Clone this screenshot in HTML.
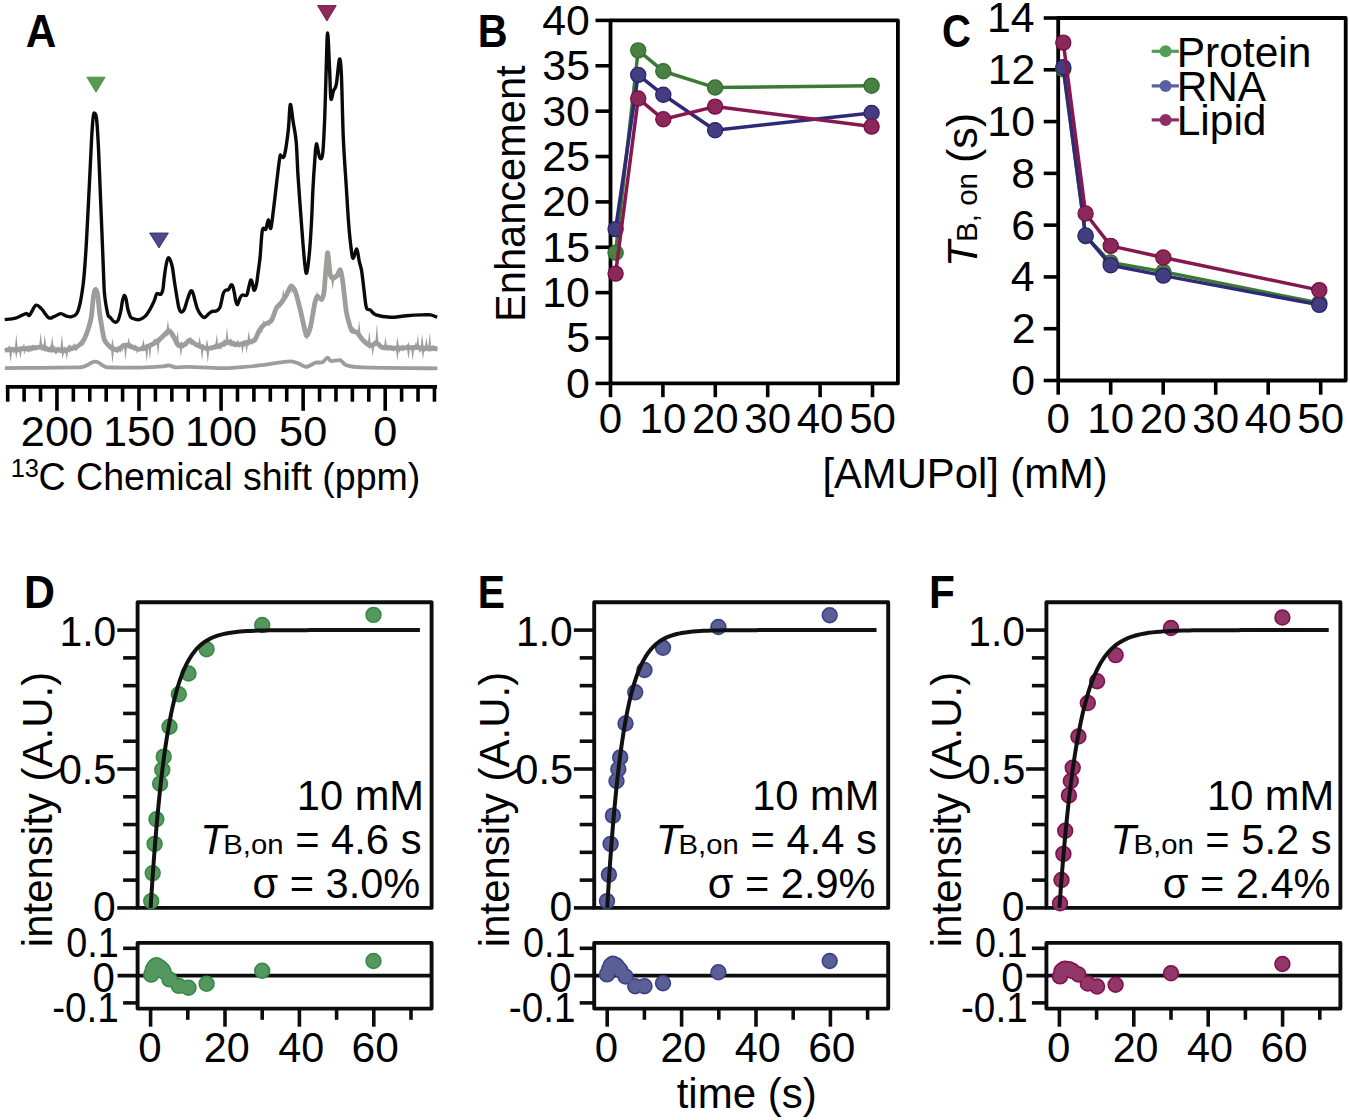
<!DOCTYPE html>
<html><head><meta charset="utf-8"><style>
html,body{margin:0;padding:0;background:#fff;}
svg{display:block;}
text{font-family:"Liberation Sans", sans-serif;}
</style></head><body>
<svg width="1350" height="1120" viewBox="0 0 1350 1120">
<rect width="1350" height="1120" fill="#fff"/>
<path d="M4.9,350.1 C6.04,350.02 13.53,349.51 16.3,349.3 C19.07,349.09 29.99,348.24 32.6,348 C35.21,347.76 40.77,346.77 42.4,346.9 C44.03,347.03 46.62,348.98 48.9,349.3 C51.18,349.62 62.43,350.34 65.2,350.1 C67.97,349.86 74.81,347.79 76.6,346.9 C78.39,346.01 81.96,342.91 83.1,341.2 C84.24,339.49 87.18,332.22 88,329.8 C88.82,327.38 90.75,320.38 91.3,317 C91.85,313.62 93.08,298.75 93.5,296 C93.92,293.25 95.09,289.7 95.5,289.5 C95.91,289.3 97.2,291.75 97.6,294 C98,296.25 99.16,309.2 99.5,312 C99.84,314.8 100.52,319.24 101,322 C101.48,324.76 103.32,337.03 104.3,339.6 C105.28,342.17 109.5,346.65 110.8,347.7 C112.1,348.75 116.33,350.07 117.3,350.1 C118.27,350.13 119.84,348.48 120.5,348 C121.16,347.52 122.91,345.49 123.9,345.3 C124.89,345.11 128.94,345.7 130.4,346.1 C131.86,346.5 136.87,349.22 138.5,349.3 C140.13,349.38 144.9,347.63 146.7,346.9 C148.5,346.17 154.87,343.06 156.5,342 C158.13,340.94 161.78,337.44 163,336.3 C164.22,335.16 167.73,330.76 168.7,330.6 C169.67,330.44 171.81,333.32 172.7,334.7 C173.59,336.08 176.62,343.26 177.6,344.4 C178.58,345.54 181.27,346.5 182.5,346.1 C183.73,345.7 188.59,340.57 189.9,340.4 C191.21,340.23 194.22,343.67 195.6,344.4 C196.98,345.13 202.26,347.32 203.7,347.7 C205.14,348.08 208.35,348.41 210,348.2 C211.65,347.99 218.5,346.2 220.2,345.6 C221.9,345 225.46,342.28 227,342.2 C228.54,342.12 233.89,344.71 235.6,344.8 C237.31,344.89 242.23,343.53 244.1,343.1 C245.97,342.67 252.77,341.78 254.3,340.5 C255.83,339.22 258.38,331.92 259.4,330.3 C260.42,328.68 263.31,325.24 264.5,324.3 C265.69,323.36 270.11,322.52 271.3,320.9 C272.49,319.28 275.37,309.97 276.4,308.1 C277.43,306.23 280.57,303.56 281.6,302.2 C282.63,300.84 285.77,296.12 286.7,294.5 C287.63,292.88 290.05,286.34 290.9,286 C291.75,285.66 294.26,288.72 295.2,291.1 C296.14,293.48 299.19,305.37 300.3,309.8 C301.41,314.23 305.28,333.69 306.3,335.4 C307.32,337.11 309.65,330.14 310.5,326.9 C311.35,323.66 314.12,306.07 314.8,303 C315.48,299.93 316.62,296.54 317.3,296.2 C317.98,295.86 320.92,300.11 321.6,299.6 C322.28,299.09 323.51,295.78 324.1,291.1 C324.69,286.42 326.9,254.5 327.5,252.8 C328.1,251.1 329.58,271.55 330.1,274.1 C330.62,276.65 332.02,278.13 332.7,278.3 C333.38,278.47 336.14,276.65 336.9,275.8 C337.66,274.95 339.7,269.12 340.3,269.8 C340.9,270.48 342.3,278.42 342.9,282.6 C343.5,286.78 345.45,306.83 346.3,311.6 C347.15,316.37 350.38,328.26 351.4,330.3 C352.42,332.34 355.31,330.98 356.5,332 C357.69,333.02 361.94,339.14 363.3,340.5 C364.66,341.86 368.74,345.34 370.1,345.6 C371.46,345.86 375.7,342.93 376.9,343.1 C378.1,343.27 380.05,346.79 382.1,347.3 C384.15,347.81 394.17,348.2 397.4,348.2 C400.63,348.2 410.4,347.22 414.4,347.3 C418.4,347.38 435.1,348.83 437.4,349" fill="none" stroke="#9c9e9c" stroke-width="4.8" stroke-linejoin="round"/>
<polyline points="5,348.73 5.75,350.27 6.5,349.31 7.25,350.48 8,350.54 8.75,347.57 9.5,347.25 10.25,351.48 11,348.42 11.75,348.24 12.5,352.14 13.25,349.36 14,351.21 14.75,349.29 15.5,350.08 16.25,347.49 17,349.95 17.75,351.1 18.5,349.25 19.25,350.32 20,349.9 20.75,346.68 21.5,350.23 22.25,349.3 23,347.73 23.75,346.27 24.5,350.55 25.25,348.44 26,349.66 26.75,350.44 27.5,349.52 28.25,350.54 29,347.74 29.75,349.79 30.5,347.88 31.25,350.37 32,350.02 32.75,345.89 33.5,346.01 34.25,346.34 35,350.15 35.75,347.31 36.5,348.22 37.25,346.44 38,347.43 38.75,346.72 39.5,346.45 40.25,347.58 41,347.5 41.75,349.07 42.5,347.88 43.25,349.44 44,349.34 44.75,350.32 45.5,348.94 46.25,346.57 47,350.47 47.75,351.29 48.5,351.26 49.25,349.68 50,350.47 50.75,347.89 51.5,351.15 52.25,349.85 53,348.38 53.75,347.27 54.5,351.42 55.25,352.16 56,347.51 56.75,351.25 57.5,349.26 58.25,347.94 59,348.72 59.75,351.23 60.5,351.81 61.25,347.54 62,350.54 62.75,347.61 63.5,351.15 64.25,349.17 65,352.07 65.75,352.44 66.5,349.76 67.25,352.12 68,348.32 68.75,346.9 69.5,349.41 70.25,346.25 71,346.9 71.75,347.78 72.5,348.63 73.25,346.05 74,345.25 74.75,349.33 75.5,346.24 76.25,349.38 77,348.61 77.75,345.26 78.5,345.03 79.25,344.68 80,344.67 80.75,343.76 81.5,342.91 82.25,342.57 83,343.58 83.75,339.72 84.5,337.59 85.25,337.34 86,333.09 86.75,331.67 87.5,333.45 88.25,328.94 89,326.17 89.75,320.47 90.5,319.66 91.25,317.61 92,307.82 92.75,303.76 93.5,296.69 94.25,291.27 95,291.79 95.75,289.86 96.5,292.58 97.25,292.48 98,298.87 98.75,306.13 99.5,309.52 100.25,314.71 101,322.92 101.75,328.41 102.5,328.71 103.25,333.77 104,338.48 104.75,339.22 105.5,340.39 106.25,341.06 107,342.28 107.75,344.4 108.5,343.8 109.25,345.13 110,348.12 110.75,345.18 111.5,348.32 112.25,349.46 113,347.52 113.75,347.35 114.5,350.65 115.25,347.98 116,347.99 116.75,349.56 117.5,351 118.25,347.41 119,348.06 119.75,347.63 120.5,349.73 121.25,347.08 122,348.66 122.75,344.49 123.5,344.77 124.25,346.12 125,347.44 125.75,345.27 126.5,344.19 127.25,343.74 128,345.96 128.75,344.29 129.5,347.58 130.25,347.84 131,344.69 131.75,345.48 132.5,348.53 133.25,347.96 134,349.11 134.75,347.01 135.5,346.19 136.25,347.33 137,350.24 137.75,347.81 138.5,348.5 139.25,348.65 140,348.44 140.75,348.17 141.5,350.61 142.25,346.41 143,345.41 143.75,350.07 144.5,349.52 145.25,349.86 146,346.76 146.75,349.22 147.5,348.72 148.25,344.68 149,347.03 149.75,347.13 150.5,345.85 151.25,344.72 152,343.15 152.75,343.05 153.5,342.08 154.25,340.88 155,343.21 155.75,341.27 156.5,343.61 157.25,338.98 158,342.78 158.75,341.03 159.5,341.57 160.25,340.77 161,340.13 161.75,337.8 162.5,334.21 163.25,337.33 164,333.59 164.75,333.51 165.5,334.65 166.25,333.18 167,331.85 167.75,333.83 168.5,331.38 169.25,330.34 170,330.65 170.75,334.58 171.5,333.35 172.25,335.71 173,334.52 173.75,335.2 174.5,338.44 175.25,341.4 176,339.52 176.75,344.23 177.5,346.4 178.25,346.22 179,346.57 179.75,342.58 180.5,346.07 181.25,347.55 182,343.59 182.75,344.72 183.5,344.13 184.25,344.89 185,343.77 185.75,343.46 186.5,344.46 187.25,339.85 188,339.55 188.75,339.35 189.5,338.76 190.25,338.4 191,343.64 191.75,343.54 192.5,340.07 193.25,342.76 194,342.32 194.75,342.84 195.5,343.56 196.25,345.43 197,345.42 197.75,344.55 198.5,343.98 199.25,345 200,344.24 200.75,346.79 201.5,347.93 202.25,346.49 203,345.23 203.75,346.03 204.5,347.1 205.25,348.37 206,349.35 206.75,347.32 207.5,349.57 208.25,348.7 209,347.76 209.75,347.52 210.5,348.05 211.25,348.94 212,347.28 212.75,348.51 213.5,347.1 214.25,345.79 215,347.11 215.75,347.75 216.5,344.32 217.25,345.96 218,345.78 218.75,347.94 219.5,348.05 220.25,344.92 221,347.27 221.75,346.34 222.5,343.21 223.25,343.89 224,341.74 224.75,344.95 225.5,343.79 226.25,344.59 227,343.72 227.75,343.3 228.5,343.87 229.25,343.21 230,341.04 230.75,343.79 231.5,340.99 232.25,341.93 233,345.44 233.75,341.87 234.5,342.34 235.25,342.61 236,346.7 236.75,342.9 237.5,341.94 238.25,346.05 239,342.15 239.75,345.76 240.5,344.72 241.25,345.42 242,345.87 242.75,343.78 243.5,344.77 244.25,340.65 245,344.26 245.75,342.74 246.5,343.61 247.25,340.25 248,343.4 248.75,344.17 249.5,339.44 250.25,340.62 251,341.67 251.75,342.86 252.5,339.62 253.25,339.1 254,339.28 254.75,340.2 255.5,339.42 256.25,336.05 257,334.41 257.75,333.06 258.5,331.32 259.25,330.17 260,327.43 260.75,328.71 261.5,330.29 262.25,326.49 263,327.35 263.75,323.42 264.5,325.29 265.25,325.26 266,324.45 266.75,323.26 267.5,322.72 268.25,323.17 269,324.12 269.75,319.85 270.5,319.2 271.25,322.22 272,321.31 272.75,317.35 273.5,315.08 274.25,314.63 275,309.98 275.75,308.52 276.5,306.42 277.25,307.58 278,305.32 278.75,304.04 279.5,305.58 280.25,306.09 281,301.82 281.75,303.04 282.5,300.39 283.25,301.55 284,299.02 284.75,296.23 285.5,294.84 286.25,292.7 287,293.79 287.75,291.77 288.5,289.15 289.25,288.61 290,286.9 290.75,287.73 291.5,284.86 292.25,290.16 293,288.38 293.75,289.9 294.5,290.1 295.25,293.02 296,295.71 296.75,297.08 297.5,299.44 298.25,303.43 299,306.89 299.75,307.26 300.5,311.87 301.25,316.25 302,316.88 302.75,318.85 303.5,322.07 304.25,327.79 305,330.77 305.75,335.44 306.5,336.84 307.25,332.14 308,330.35 308.75,329.19 309.5,327.3 310.25,328.47 311,325.99 311.75,322.03 312.5,314.51 313.25,313.51 314,306.48 314.75,302.88 315.5,302.29 316.25,296.9 317,294.9 317.75,298.29 318.5,296.07 319.25,297 320,298.75 320.75,299.84 321.5,296.96 322.25,296.53 323,294.51 323.75,292.22 324.5,285.09 325.25,278.59 326,272.06 326.75,260.68 327.5,253.03 328.25,256.96 329,263.92 329.75,272.09 330.5,272.73 331.25,277.97 332,279.29 332.75,276.17 333.5,280.12 334.25,276.72 335,278.35 335.75,277.82 336.5,274.97 337.25,276.1 338,274.66 338.75,274.13 339.5,269.99 340.25,271.21 341,275.65 341.75,277.84 342.5,280.82 343.25,283.57 344,291.95 344.75,297.61 345.5,305.91 346.25,312.1 347,314.51 347.75,315.26 348.5,320.42 349.25,323.1 350,323.5 350.75,329.94 351.5,331.14 352.25,328.62 353,333.08 353.75,329.22 354.5,330.46 355.25,332.73 356,332.34 356.75,332.6 357.5,334.02 358.25,333.97 359,334.15 359.75,334.38 360.5,334.76 361.25,339.06 362,340.2 362.75,340.04 363.5,341.9 364.25,340.48 365,340.56 365.75,341.73 366.5,344.84 367.25,341.08 368,344.05 368.75,343.27 369.5,346.55 370.25,344.79 371,344.4 371.75,344.49 372.5,344.93 373.25,345.85 374,343.4 374.75,345.69 375.5,341.6 376.25,342.15 377,341.1 377.75,341.77 378.5,345.84 379.25,346.18 380,343.97 380.75,344.59 381.5,346.38 382.25,348.57 383,348.99 383.75,348.69 384.5,347.92 385.25,345.65 386,347 386.75,345.98 387.5,347.76 388.25,348.02 389,346.16 389.75,346.45 390.5,349.26 391.25,345.39 392,349.46 392.75,349.96 393.5,350.31 394.25,347.41 395,348.33 395.75,348.53 396.5,348.84 397.25,350.67 398,349.14 398.75,347.09 399.5,349.96 400.25,347.97 401,348.54 401.75,349.15 402.5,345.34 403.25,349.3 404,348.69 404.75,347.77 405.5,347.89 406.25,347.53 407,346.1 407.75,347.81 408.5,345.21 409.25,347.57 410,348.29 410.75,347.2 411.5,347.8 412.25,349.8 413,349.41 413.75,345.44 414.5,348.83 415.25,348 416,345.08 416.75,346.75 417.5,346.14 418.25,345.39 419,347.84 419.75,349.93 420.5,346.83 421.25,349.73 422,348.87 422.75,346.02 423.5,349.84 424.25,348.55 425,350.3 425.75,349.26 426.5,349.44 427.25,347.44 428,349.9 428.75,350.61 429.5,350.3 430.25,348.14 431,349.86 431.75,348.5 432.5,346.61 433.25,346.32 434,346.55 434.75,347.25 435.5,347.1 436.25,348.9 437,350.01" fill="none" stroke="#9c9e9c" stroke-width="2.0" stroke-linejoin="miter"/>
<path d="M14.7,349.3 L16.3,333.9 L17.9,349.3 Z" fill="#9c9e9c"/>
<path d="M39.1,347.09 L40.7,332.2 L42.3,347.09 Z" fill="#9c9e9c"/>
<path d="M43.2,347.79 L44.8,334.7 L46.4,347.79 Z" fill="#9c9e9c"/>
<path d="M50.6,349.46 L52.2,335.5 L53.8,349.46 Z" fill="#9c9e9c"/>
<path d="M60.3,349.94 L61.9,333.9 L63.5,349.94 Z" fill="#9c9e9c"/>
<path d="M110.9,348.33 L112.5,337.9 L114.1,348.33 Z" fill="#9c9e9c"/>
<path d="M127.1,345.89 L128.7,337.1 L130.3,345.89 Z" fill="#9c9e9c"/>
<path d="M141.8,347.87 L143.4,338.7 L145,347.87 Z" fill="#9c9e9c"/>
<path d="M166.3,331.4 L167.9,320 L169.5,331.4 Z" fill="#9c9e9c"/>
<path d="M176,344.4 L177.6,330.6 L179.2,344.4 Z" fill="#9c9e9c"/>
<path d="M198,346.03 L199.6,336.3 L201.2,346.03 Z" fill="#9c9e9c"/>
<path d="M205.4,347.96 L207,338.7 L208.6,347.96 Z" fill="#9c9e9c"/>
<path d="M215.2,346.47 L216.8,333.7 L218.4,346.47 Z" fill="#9c9e9c"/>
<path d="M225.4,342.2 L227,326.9 L228.6,342.2 Z" fill="#9c9e9c"/>
<path d="M247.2,341.9 L248.8,330.3 L250.4,341.9 Z" fill="#9c9e9c"/>
<path d="M281.7,299.63 L283.3,288.6 L284.9,299.63 Z" fill="#9c9e9c"/>
<path d="M357.5,335.25 L359.1,320.1 L360.7,335.25 Z" fill="#9c9e9c"/>
<path d="M367.7,345 L369.3,330.3 L370.9,345 Z" fill="#9c9e9c"/>
<path d="M375.3,343.1 L376.9,323.5 L378.5,343.1 Z" fill="#9c9e9c"/>
<path d="M383.9,347.5 L385.5,336.3 L387.1,347.5 Z" fill="#9c9e9c"/>
<path d="M395.8,348.2 L397.4,336.3 L399,348.2 Z" fill="#9c9e9c"/>
<path d="M416.2,347.55 L417.8,334.5 L419.4,347.55 Z" fill="#9c9e9c"/>
<path d="M420.5,347.87 L422.1,333.7 L423.7,347.87 Z" fill="#9c9e9c"/>
<path d="M424.8,348.19 L426.4,337.1 L428,348.19 Z" fill="#9c9e9c"/>
<path d="M428.2,348.44 L429.8,332.8 L431.4,348.44 Z" fill="#9c9e9c"/>
<path d="M9,349.7 L10.6,362.4 L12.2,349.7 Z" fill="#9c9e9c"/>
<path d="M14.7,349.3 L16.3,359.1 L17.9,349.3 Z" fill="#9c9e9c"/>
<path d="M18.8,348.97 L20.4,359.1 L22,348.97 Z" fill="#9c9e9c"/>
<path d="M61.1,349.98 L62.7,359.1 L64.3,349.98 Z" fill="#9c9e9c"/>
<path d="M65.2,349.65 L66.8,359.9 L68.4,349.65 Z" fill="#9c9e9c"/>
<path d="M110.9,348.33 L112.5,364 L114.1,348.33 Z" fill="#9c9e9c"/>
<path d="M123.9,345.5 L125.5,360.7 L127.1,345.5 Z" fill="#9c9e9c"/>
<path d="M145.1,346.9 L146.7,362.4 L148.3,346.9 Z" fill="#9c9e9c"/>
<path d="M148.3,345.3 L149.9,359.9 L151.5,345.3 Z" fill="#9c9e9c"/>
<path d="M156.5,340.6 L158.1,355.9 L159.7,340.6 Z" fill="#9c9e9c"/>
<path d="M179.3,345.54 L180.9,357.5 L182.5,345.54 Z" fill="#9c9e9c"/>
<path d="M200.5,347.05 L202.1,360.7 L203.7,347.05 Z" fill="#9c9e9c"/>
<path d="M206.2,348.03 L207.8,363.2 L209.4,348.03 Z" fill="#9c9e9c"/>
<path d="M240.8,343.44 L242.4,354.1 L244,343.44 Z" fill="#9c9e9c"/>
<path d="M245,342.46 L246.6,353.3 L248.2,342.46 Z" fill="#9c9e9c"/>
<path d="M331.1,278.3 L332.7,290 L334.3,278.3 Z" fill="#9c9e9c"/>
<path d="M371.1,344.64 L372.7,356.7 L374.3,344.64 Z" fill="#9c9e9c"/>
<path d="M395.8,348.2 L397.4,361 L399,348.2 Z" fill="#9c9e9c"/>
<path d="M406.9,347.61 L408.5,359.3 L410.1,347.61 Z" fill="#9c9e9c"/>
<path d="M411.1,347.39 L412.7,361 L414.3,347.39 Z" fill="#9c9e9c"/>
<path d="M421.4,347.94 L423,359.3 L424.6,347.94 Z" fill="#9c9e9c"/>
<path d="M4.9,368.1 C9.58,368.06 30.25,367.91 40,367.8 C49.75,367.69 72.13,367.47 78,367.3 C83.87,367.13 82.67,366.83 84,366.5 C85.33,366.17 86.93,365.35 88,364.8 C89.07,364.25 91.03,362.81 92,362.4 C92.97,361.99 94.43,361.67 95.3,361.7 C96.17,361.73 97.61,362.16 98.5,362.6 C99.39,363.04 101,364.4 102,365 C103,365.6 104.67,366.77 106,367.1 C107.33,367.43 107.47,367.43 112,367.5 C116.53,367.57 133.2,367.75 140,367.6 C146.8,367.45 159.17,366.71 163,366.4 C166.83,366.09 166.97,365.18 168.7,365.3 C170.43,365.42 173.17,367.09 176,367.3 C178.83,367.51 184.03,366.78 189.9,366.9 C195.77,367.02 212.77,368.2 220,368.2 C227.23,368.2 238.62,367.3 244.1,366.9 C249.58,366.5 256.57,365.76 261.1,365.2 C265.63,364.64 274.13,363.22 278.1,362.7 C282.07,362.18 288.17,361.19 290.9,361.3 C293.63,361.41 296.55,362.75 298.6,363.5 C300.65,364.25 304.03,367.01 306.3,366.9 C308.57,366.79 313.45,363.31 315.6,362.7 C317.75,362.09 320.81,362.97 322.4,362.3 C323.99,361.63 326.35,357.87 327.5,357.7 C328.65,357.53 329.29,360.68 331,361 C332.71,361.32 338.26,359.54 340.3,360.1 C342.34,360.66 343.23,364.23 346.3,365.2 C349.37,366.17 351.15,366.97 363.3,367.4 C375.45,367.83 427.52,368.27 437.4,368.4" fill="none" stroke="#9c9e9c" stroke-width="3.8" stroke-linejoin="round"/>
<path d="M4.7,319.6 C6.52,319.37 12.07,319.2 15.6,318.2 C19.13,317.2 23.57,314.12 25.9,313.6 C28.23,313.08 27.95,316.48 29.6,315.1 C31.25,313.72 33.82,306.33 35.8,305.3 C37.78,304.27 39.35,306.83 41.5,308.9 C43.65,310.97 46.63,316.4 48.7,317.7 C50.77,319 51.9,317.38 53.9,316.7 C55.9,316.02 58.62,313.7 60.7,313.6 C62.78,313.5 64.58,315.58 66.4,316.1 C68.22,316.62 69.88,317.12 71.6,316.7 C73.32,316.28 75.32,315.68 76.7,313.6 C78.08,311.52 78.85,308.87 79.9,304.2 C80.95,299.53 82.2,291.63 83,285.6 C83.8,279.57 84.08,276.08 84.7,268 C85.32,259.92 85.87,252.1 86.7,237.1 C87.53,222.1 88.88,194.4 89.7,178 C90.52,161.6 91.02,148.87 91.6,138.7 C92.18,128.53 92.7,121.27 93.2,117 C93.7,112.73 94.03,112.77 94.6,113.1 C95.17,113.43 95.95,113.1 96.6,119 C97.25,124.9 97.85,135.38 98.5,148.5 C99.15,161.62 99.83,181.3 100.5,197.7 C101.17,214.1 101.95,233.13 102.5,246.9 C103.05,260.67 103.43,272.13 103.8,280.3 C104.17,288.47 104.02,290.18 104.7,295.9 C105.38,301.62 107.02,311.07 107.9,314.6 C108.78,318.13 108.93,315.9 110,317.1 C111.07,318.3 112.98,321.2 114.3,321.8 C115.62,322.4 116.83,322.43 117.9,320.7 C118.97,318.97 119.93,314.73 120.7,311.4 C121.47,308.07 121.9,303.37 122.5,300.7 C123.1,298.03 123.7,295.63 124.3,295.4 C124.9,295.17 125.5,296.98 126.1,299.3 C126.7,301.62 127.13,306.33 127.9,309.3 C128.67,312.27 129.63,315.5 130.7,317.1 C131.77,318.7 132.87,318.48 134.3,318.9 C135.73,319.32 137.52,320.02 139.3,319.6 C141.08,319.18 143.22,318.12 145,316.4 C146.78,314.68 148.45,311.92 150,309.3 C151.55,306.68 153.17,303.32 154.3,300.7 C155.43,298.08 155.73,294.67 156.8,293.6 C157.87,292.53 159.68,295.02 160.7,294.3 C161.72,293.58 162.3,292.17 162.9,289.3 C163.5,286.43 163.77,281.15 164.3,277.1 C164.83,273.05 165.45,268.2 166.1,265 C166.75,261.8 167.48,258.67 168.2,257.9 C168.92,257.13 169.68,258.73 170.4,260.4 C171.12,262.07 171.85,264.52 172.5,267.9 C173.15,271.28 173.58,275.95 174.3,280.7 C175.02,285.45 176.03,291.87 176.8,296.4 C177.57,300.93 178.18,305.28 178.9,307.9 C179.62,310.52 180.2,311.87 181.1,312.1 C182,312.33 183.23,311.43 184.3,309.3 C185.37,307.17 186.43,302.33 187.5,299.3 C188.57,296.27 189.8,292.17 190.7,291.1 C191.6,290.03 192.12,291.07 192.9,292.9 C193.68,294.73 194.67,299.5 195.4,302.1 C196.13,304.7 196.55,306.6 197.3,308.5 C198.05,310.4 198.75,312 199.9,313.5 C201.05,315 202.75,317.43 204.2,317.5 C205.65,317.57 207.27,314.93 208.6,313.9 C209.93,312.87 210.92,311.78 212.2,311.3 C213.48,310.82 215.02,311.65 216.3,311 C217.58,310.35 219,309.18 219.9,307.4 C220.8,305.62 221.12,302.67 221.7,300.3 C222.28,297.93 222.72,294.88 223.4,293.2 C224.08,291.52 224.95,290.8 225.8,290.2 C226.65,289.6 227.62,290.48 228.5,289.6 C229.38,288.72 230.37,285.38 231.1,284.9 C231.83,284.42 232.35,285.32 232.9,286.7 C233.45,288.08 233.9,290.73 234.4,293.2 C234.9,295.67 235.35,299.63 235.9,301.5 C236.45,303.37 237.02,305 237.7,304.4 C238.38,303.8 239.22,299.47 240,297.9 C240.78,296.33 241.5,295.38 242.4,295 C243.3,294.62 244.62,295.7 245.4,295.6 C246.18,295.5 246.52,295.88 247.1,294.4 C247.68,292.92 248.3,289.08 248.9,286.7 C249.5,284.32 250.15,280.8 250.7,280.1 C251.25,279.4 251.7,280.92 252.2,282.5 C252.7,284.08 253.25,288.42 253.7,289.6 C254.15,290.78 254.42,290.58 254.9,289.6 C255.38,288.62 256.12,286.17 256.6,283.7 C257.08,281.23 257.4,277.77 257.8,274.8 C258.2,271.83 258.6,269.03 259,265.9 C259.4,262.77 259.63,261.98 260.2,256 C260.77,250.02 261.47,234.47 262.4,230 C263.33,225.53 264.82,230.9 265.8,229.2 C266.78,227.5 267.47,219.95 268.3,219.8 C269.13,219.65 269.92,230.17 270.8,228.3 C271.68,226.43 272.15,220.07 273.6,208.6 C275.05,197.13 278.2,168.18 279.5,159.5 C280.8,150.82 280.58,157.15 281.4,156.5 C282.22,155.85 283.25,160.02 284.4,155.6 C285.55,151.18 287.32,138.52 288.3,130 C289.28,121.48 289.48,105.8 290.3,104.5 C291.12,103.2 292.22,115.98 293.2,122.2 C294.18,128.42 295.38,132.63 296.2,141.8 C297.02,150.97 297.12,162.15 298.1,177.2 C299.08,192.25 301.03,218.12 302.1,232.1 C303.17,246.08 303.75,254.27 304.5,261.1 C305.25,267.93 305.78,274.45 306.6,273.1 C307.42,271.75 308.58,261.52 309.4,253 C310.22,244.48 310.92,232.5 311.5,222 C312.08,211.5 312.35,200.33 312.9,190 C313.45,179.67 314.22,167.7 314.8,160 C315.38,152.3 315.58,144.22 316.4,143.8 C317.22,143.38 318.65,155.87 319.7,157.5 C320.75,159.13 321.87,160.15 322.7,153.6 C323.53,147.05 324.12,132.28 324.7,118.2 C325.28,104.12 325.72,83.3 326.2,69.1 C326.68,54.9 327.03,33 327.6,33 C328.17,33 329.05,58.17 329.6,69.1 C330.15,80.03 330.25,95 330.9,98.6 C331.55,102.2 332.58,93.15 333.5,90.7 C334.42,88.25 335.42,89.13 336.4,83.9 C337.38,78.67 338.57,60.78 339.4,59.3 C340.23,57.82 340.75,61.9 341.4,75 C342.05,88.1 342.48,119.23 343.3,137.9 C344.12,156.57 345.4,172.63 346.3,187 C347.2,201.37 347.9,213.9 348.7,224.1 C349.5,234.3 350.35,242.45 351.1,248.2 C351.85,253.95 352.25,258.47 353.2,258.6 C354.15,258.73 355.8,248.58 356.8,249 C357.8,249.42 358.4,257.48 359.2,261.1 C360,264.72 360.8,265.88 361.6,270.7 C362.4,275.52 363.2,283.85 364,290 C364.8,296.15 365.33,304.27 366.4,307.6 C367.47,310.93 368.8,308.78 370.4,310 C372,311.22 372.65,313.68 376,314.9 C379.35,316.12 385.4,317.17 390.5,317.3 C395.6,317.43 401.25,316.1 406.6,315.7 C411.95,315.3 418.58,315.03 422.6,314.9 C426.62,314.77 428.28,314.5 430.7,314.9 C433.12,315.3 436.03,316.9 437.1,317.3" fill="none" stroke="#0a0a0a" stroke-width="3.4" stroke-linejoin="round"/>
<path d="M86.9,77.2 L105.1,77.2 L96,92.2 Z" fill="#569a52" stroke="#46913c" stroke-width="0.9" stroke-linejoin="round"/>
<path d="M149.6,233 L168.4,233 L159,248 Z" fill="#4b4a87" stroke="#37327a" stroke-width="0.9" stroke-linejoin="round"/>
<path d="M317.6,5.6 L336.2,5.6 L326.9,21 Z" fill="#8c2a5a" stroke="#7d0a45" stroke-width="0.9" stroke-linejoin="round"/>
<line x1="5.8" y1="386.8" x2="437" y2="386.8" stroke="#000" stroke-width="3.7" stroke-linecap="butt"/>
<line x1="7.7" y1="386.8" x2="7.7" y2="401.7" stroke="#000" stroke-width="3.6" stroke-linecap="butt"/>
<line x1="24.11" y1="386.8" x2="24.11" y2="401.7" stroke="#000" stroke-width="3.6" stroke-linecap="butt"/>
<line x1="40.53" y1="386.8" x2="40.53" y2="401.7" stroke="#000" stroke-width="3.6" stroke-linecap="butt"/>
<line x1="56.94" y1="386.8" x2="56.94" y2="410.8" stroke="#000" stroke-width="3.6" stroke-linecap="butt"/>
<text x="20.85" y="446" font-size="42" textLength="72.18" lengthAdjust="spacingAndGlyphs" fill="#000">200</text>
<line x1="73.35" y1="386.8" x2="73.35" y2="401.7" stroke="#000" stroke-width="3.6" stroke-linecap="butt"/>
<line x1="89.77" y1="386.8" x2="89.77" y2="401.7" stroke="#000" stroke-width="3.6" stroke-linecap="butt"/>
<line x1="106.18" y1="386.8" x2="106.18" y2="401.7" stroke="#000" stroke-width="3.6" stroke-linecap="butt"/>
<line x1="122.59" y1="386.8" x2="122.59" y2="401.7" stroke="#000" stroke-width="3.6" stroke-linecap="butt"/>
<line x1="139" y1="386.8" x2="139" y2="410.8" stroke="#000" stroke-width="3.6" stroke-linecap="butt"/>
<text x="102.92" y="446" font-size="42" textLength="72.18" lengthAdjust="spacingAndGlyphs" fill="#000">150</text>
<line x1="155.42" y1="386.8" x2="155.42" y2="401.7" stroke="#000" stroke-width="3.6" stroke-linecap="butt"/>
<line x1="171.83" y1="386.8" x2="171.83" y2="401.7" stroke="#000" stroke-width="3.6" stroke-linecap="butt"/>
<line x1="188.24" y1="386.8" x2="188.24" y2="401.7" stroke="#000" stroke-width="3.6" stroke-linecap="butt"/>
<line x1="204.66" y1="386.8" x2="204.66" y2="401.7" stroke="#000" stroke-width="3.6" stroke-linecap="butt"/>
<line x1="221.07" y1="386.8" x2="221.07" y2="410.8" stroke="#000" stroke-width="3.6" stroke-linecap="butt"/>
<text x="184.98" y="446" font-size="42" textLength="72.18" lengthAdjust="spacingAndGlyphs" fill="#000">100</text>
<line x1="237.48" y1="386.8" x2="237.48" y2="401.7" stroke="#000" stroke-width="3.6" stroke-linecap="butt"/>
<line x1="253.9" y1="386.8" x2="253.9" y2="401.7" stroke="#000" stroke-width="3.6" stroke-linecap="butt"/>
<line x1="270.31" y1="386.8" x2="270.31" y2="401.7" stroke="#000" stroke-width="3.6" stroke-linecap="butt"/>
<line x1="286.72" y1="386.8" x2="286.72" y2="401.7" stroke="#000" stroke-width="3.6" stroke-linecap="butt"/>
<line x1="303.13" y1="386.8" x2="303.13" y2="410.8" stroke="#000" stroke-width="3.6" stroke-linecap="butt"/>
<text x="279.08" y="446" font-size="42" textLength="48.12" lengthAdjust="spacingAndGlyphs" fill="#000">50</text>
<line x1="319.55" y1="386.8" x2="319.55" y2="401.7" stroke="#000" stroke-width="3.6" stroke-linecap="butt"/>
<line x1="335.96" y1="386.8" x2="335.96" y2="401.7" stroke="#000" stroke-width="3.6" stroke-linecap="butt"/>
<line x1="352.37" y1="386.8" x2="352.37" y2="401.7" stroke="#000" stroke-width="3.6" stroke-linecap="butt"/>
<line x1="368.79" y1="386.8" x2="368.79" y2="401.7" stroke="#000" stroke-width="3.6" stroke-linecap="butt"/>
<line x1="385.2" y1="386.8" x2="385.2" y2="410.8" stroke="#000" stroke-width="3.6" stroke-linecap="butt"/>
<text x="373.17" y="446" font-size="42" textLength="24.06" lengthAdjust="spacingAndGlyphs" fill="#000">0</text>
<line x1="401.61" y1="386.8" x2="401.61" y2="401.7" stroke="#000" stroke-width="3.6" stroke-linecap="butt"/>
<line x1="418.03" y1="386.8" x2="418.03" y2="401.7" stroke="#000" stroke-width="3.6" stroke-linecap="butt"/>
<line x1="434.44" y1="386.8" x2="434.44" y2="401.7" stroke="#000" stroke-width="3.6" stroke-linecap="butt"/>
<text x="10.67" y="477.2" font-size="25.5" textLength="28.25" lengthAdjust="spacingAndGlyphs" fill="#000">13</text>
<text x="38.49" y="489.8" font-size="38.5" textLength="381.84" lengthAdjust="spacingAndGlyphs" fill="#000">C Chemical shift (ppm)</text>
<text x="25.75" y="47.2" font-size="45.5" font-weight="bold" textLength="30.57" lengthAdjust="spacingAndGlyphs" fill="#000">A</text>
<path d="M610.5,20.4 L897.9,20.4 L897.9,383.4 L610.5,383.4 Z" fill="none" stroke="#000" stroke-width="3.8" stroke-linejoin="round"/>
<line x1="595.5" y1="383.4" x2="610.5" y2="383.4" stroke="#000" stroke-width="3.6" stroke-linecap="butt"/>
<text x="566.05" y="397.85" font-size="42" textLength="23.83" lengthAdjust="spacingAndGlyphs" fill="#000">0</text>
<line x1="595.5" y1="338.02" x2="610.5" y2="338.02" stroke="#000" stroke-width="3.6" stroke-linecap="butt"/>
<text x="566.17" y="352.47" font-size="42" textLength="23.83" lengthAdjust="spacingAndGlyphs" fill="#000">5</text>
<line x1="595.5" y1="292.65" x2="610.5" y2="292.65" stroke="#000" stroke-width="3.6" stroke-linecap="butt"/>
<text x="542.22" y="307.1" font-size="42" textLength="47.65" lengthAdjust="spacingAndGlyphs" fill="#000">10</text>
<line x1="595.5" y1="247.27" x2="610.5" y2="247.27" stroke="#000" stroke-width="3.6" stroke-linecap="butt"/>
<text x="542.35" y="261.72" font-size="42" textLength="47.65" lengthAdjust="spacingAndGlyphs" fill="#000">15</text>
<line x1="595.5" y1="201.9" x2="610.5" y2="201.9" stroke="#000" stroke-width="3.6" stroke-linecap="butt"/>
<text x="542.22" y="216.35" font-size="42" textLength="47.65" lengthAdjust="spacingAndGlyphs" fill="#000">20</text>
<line x1="595.5" y1="156.52" x2="610.5" y2="156.52" stroke="#000" stroke-width="3.6" stroke-linecap="butt"/>
<text x="542.35" y="170.97" font-size="42" textLength="47.65" lengthAdjust="spacingAndGlyphs" fill="#000">25</text>
<line x1="595.5" y1="111.15" x2="610.5" y2="111.15" stroke="#000" stroke-width="3.6" stroke-linecap="butt"/>
<text x="542.22" y="125.6" font-size="42" textLength="47.65" lengthAdjust="spacingAndGlyphs" fill="#000">30</text>
<line x1="595.5" y1="65.77" x2="610.5" y2="65.77" stroke="#000" stroke-width="3.6" stroke-linecap="butt"/>
<text x="542.35" y="80.22" font-size="42" textLength="47.65" lengthAdjust="spacingAndGlyphs" fill="#000">35</text>
<line x1="595.5" y1="20.4" x2="610.5" y2="20.4" stroke="#000" stroke-width="3.6" stroke-linecap="butt"/>
<text x="542.22" y="34.85" font-size="42" textLength="47.65" lengthAdjust="spacingAndGlyphs" fill="#000">40</text>
<line x1="610.5" y1="383.4" x2="610.5" y2="397.2" stroke="#000" stroke-width="3.6" stroke-linecap="butt"/>
<text x="598.82" y="432.6" font-size="42" fill="#000">0</text>
<line x1="662.9" y1="383.4" x2="662.9" y2="397.2" stroke="#000" stroke-width="3.6" stroke-linecap="butt"/>
<text x="639.54" y="432.6" font-size="42" fill="#000">10</text>
<line x1="715.3" y1="383.4" x2="715.3" y2="397.2" stroke="#000" stroke-width="3.6" stroke-linecap="butt"/>
<text x="691.94" y="432.6" font-size="42" fill="#000">20</text>
<line x1="767.7" y1="383.4" x2="767.7" y2="397.2" stroke="#000" stroke-width="3.6" stroke-linecap="butt"/>
<text x="744.34" y="432.6" font-size="42" fill="#000">30</text>
<line x1="820.1" y1="383.4" x2="820.1" y2="397.2" stroke="#000" stroke-width="3.6" stroke-linecap="butt"/>
<text x="796.74" y="432.6" font-size="42" fill="#000">40</text>
<line x1="872.5" y1="383.4" x2="872.5" y2="397.2" stroke="#000" stroke-width="3.6" stroke-linecap="butt"/>
<text x="849.14" y="432.6" font-size="42" fill="#000">50</text>
<polyline points="615.6,252.72 638.2,50.35 663.3,71.22 715.1,87.55 871.6,85.74" fill="none" stroke="#3a7a35" stroke-width="3.5" stroke-linejoin="round"/><circle cx="615.6" cy="252.72" r="7.6" fill="#4b7f46" stroke="#2d6e25" stroke-width="1.2"/><circle cx="638.2" cy="50.35" r="7.6" fill="#4b7f46" stroke="#2d6e25" stroke-width="1.2"/><circle cx="663.3" cy="71.22" r="7.6" fill="#4b7f46" stroke="#2d6e25" stroke-width="1.2"/><circle cx="715.1" cy="87.55" r="7.6" fill="#4b7f46" stroke="#2d6e25" stroke-width="1.2"/><circle cx="871.6" cy="85.74" r="7.6" fill="#4b7f46" stroke="#2d6e25" stroke-width="1.2"/>
<polyline points="615.6,229.12 638.2,74.85 663.3,94.81 715.1,130.21 871.6,112.96" fill="none" stroke="#2f2a78" stroke-width="3.5" stroke-linejoin="round"/><circle cx="615.6" cy="229.12" r="7.6" fill="#443e80" stroke="#26206e" stroke-width="1.2"/><circle cx="638.2" cy="74.85" r="7.6" fill="#443e80" stroke="#26206e" stroke-width="1.2"/><circle cx="663.3" cy="94.81" r="7.6" fill="#443e80" stroke="#26206e" stroke-width="1.2"/><circle cx="715.1" cy="130.21" r="7.6" fill="#443e80" stroke="#26206e" stroke-width="1.2"/><circle cx="871.6" cy="112.96" r="7.6" fill="#443e80" stroke="#26206e" stroke-width="1.2"/>
<polyline points="615.6,273.59 638.2,98.44 663.3,119.32 715.1,106.61 871.6,126.58" fill="none" stroke="#85194f" stroke-width="3.5" stroke-linejoin="round"/><circle cx="615.6" cy="273.59" r="7.6" fill="#8a285a" stroke="#7a0843" stroke-width="1.2"/><circle cx="638.2" cy="98.44" r="7.6" fill="#8a285a" stroke="#7a0843" stroke-width="1.2"/><circle cx="663.3" cy="119.32" r="7.6" fill="#8a285a" stroke="#7a0843" stroke-width="1.2"/><circle cx="715.1" cy="106.61" r="7.6" fill="#8a285a" stroke="#7a0843" stroke-width="1.2"/><circle cx="871.6" cy="126.58" r="7.6" fill="#8a285a" stroke="#7a0843" stroke-width="1.2"/>
<text x="477.84" y="46.6" font-size="45.5" font-weight="bold" textLength="29.84" lengthAdjust="spacingAndGlyphs" fill="#000">B</text>
<text x="-321.91" y="525" font-size="42" textLength="256.51" lengthAdjust="spacingAndGlyphs" fill="#000" transform="rotate(-90)">Enhancement</text>
<path d="M1058.2,18 L1345.7,18 L1345.7,380.5 L1058.2,380.5 Z" fill="none" stroke="#000" stroke-width="3.8" stroke-linejoin="round"/>
<line x1="1043.7" y1="380.5" x2="1058.2" y2="380.5" stroke="#000" stroke-width="3.6" stroke-linecap="butt"/>
<text x="1011.15" y="394.95" font-size="42" textLength="23.83" lengthAdjust="spacingAndGlyphs" fill="#000">0</text>
<line x1="1043.7" y1="328.71" x2="1058.2" y2="328.71" stroke="#000" stroke-width="3.6" stroke-linecap="butt"/>
<text x="1011.63" y="343.16" font-size="42" textLength="23.83" lengthAdjust="spacingAndGlyphs" fill="#000">2</text>
<line x1="1043.7" y1="276.93" x2="1058.2" y2="276.93" stroke="#000" stroke-width="3.6" stroke-linecap="butt"/>
<text x="1010.73" y="291.38" font-size="42" textLength="23.83" lengthAdjust="spacingAndGlyphs" fill="#000">4</text>
<line x1="1043.7" y1="225.14" x2="1058.2" y2="225.14" stroke="#000" stroke-width="3.6" stroke-linecap="butt"/>
<text x="1011.36" y="239.59" font-size="42" textLength="23.83" lengthAdjust="spacingAndGlyphs" fill="#000">6</text>
<line x1="1043.7" y1="173.36" x2="1058.2" y2="173.36" stroke="#000" stroke-width="3.6" stroke-linecap="butt"/>
<text x="1011.34" y="187.81" font-size="42" textLength="23.83" lengthAdjust="spacingAndGlyphs" fill="#000">8</text>
<line x1="1043.7" y1="121.57" x2="1058.2" y2="121.57" stroke="#000" stroke-width="3.6" stroke-linecap="butt"/>
<text x="987.32" y="136.02" font-size="42" textLength="47.65" lengthAdjust="spacingAndGlyphs" fill="#000">10</text>
<line x1="1043.7" y1="69.79" x2="1058.2" y2="69.79" stroke="#000" stroke-width="3.6" stroke-linecap="butt"/>
<text x="987.8" y="84.24" font-size="42" textLength="47.65" lengthAdjust="spacingAndGlyphs" fill="#000">12</text>
<line x1="1043.7" y1="18" x2="1058.2" y2="18" stroke="#000" stroke-width="3.6" stroke-linecap="butt"/>
<text x="986.9" y="32.45" font-size="42" textLength="47.65" lengthAdjust="spacingAndGlyphs" fill="#000">14</text>
<line x1="1058.2" y1="380.5" x2="1058.2" y2="394.7" stroke="#000" stroke-width="3.6" stroke-linecap="butt"/>
<text x="1046.52" y="432.8" font-size="42" fill="#000">0</text>
<line x1="1110.7" y1="380.5" x2="1110.7" y2="394.7" stroke="#000" stroke-width="3.6" stroke-linecap="butt"/>
<text x="1087.34" y="432.8" font-size="42" fill="#000">10</text>
<line x1="1163.2" y1="380.5" x2="1163.2" y2="394.7" stroke="#000" stroke-width="3.6" stroke-linecap="butt"/>
<text x="1139.84" y="432.8" font-size="42" fill="#000">20</text>
<line x1="1215.7" y1="380.5" x2="1215.7" y2="394.7" stroke="#000" stroke-width="3.6" stroke-linecap="butt"/>
<text x="1192.34" y="432.8" font-size="42" fill="#000">30</text>
<line x1="1268.2" y1="380.5" x2="1268.2" y2="394.7" stroke="#000" stroke-width="3.6" stroke-linecap="butt"/>
<text x="1244.84" y="432.8" font-size="42" fill="#000">40</text>
<line x1="1320.7" y1="380.5" x2="1320.7" y2="394.7" stroke="#000" stroke-width="3.6" stroke-linecap="butt"/>
<text x="1297.34" y="432.8" font-size="42" fill="#000">50</text>
<polyline points="1063.3,69.27 1085.6,236.28 1110.7,262.43 1163.3,271.75 1319.3,303.08" fill="none" stroke="#3a7a35" stroke-width="3.5" stroke-linejoin="round"/><circle cx="1063.3" cy="69.27" r="7.6" fill="#4b7f46" stroke="#2d6e25" stroke-width="1.2"/><circle cx="1085.6" cy="236.28" r="7.6" fill="#4b7f46" stroke="#2d6e25" stroke-width="1.2"/><circle cx="1110.7" cy="262.43" r="7.6" fill="#4b7f46" stroke="#2d6e25" stroke-width="1.2"/><circle cx="1163.3" cy="271.75" r="7.6" fill="#4b7f46" stroke="#2d6e25" stroke-width="1.2"/><circle cx="1319.3" cy="303.08" r="7.6" fill="#4b7f46" stroke="#2d6e25" stroke-width="1.2"/>
<polyline points="1063.3,67.2 1085.6,235.5 1110.7,265.28 1163.3,275.63 1319.3,304.89" fill="none" stroke="#2f2a78" stroke-width="3.5" stroke-linejoin="round"/><circle cx="1063.3" cy="67.2" r="7.6" fill="#443e80" stroke="#26206e" stroke-width="1.2"/><circle cx="1085.6" cy="235.5" r="7.6" fill="#443e80" stroke="#26206e" stroke-width="1.2"/><circle cx="1110.7" cy="265.28" r="7.6" fill="#443e80" stroke="#26206e" stroke-width="1.2"/><circle cx="1163.3" cy="275.63" r="7.6" fill="#443e80" stroke="#26206e" stroke-width="1.2"/><circle cx="1319.3" cy="304.89" r="7.6" fill="#443e80" stroke="#26206e" stroke-width="1.2"/>
<polyline points="1063.3,42.6 1085.6,213.49 1110.7,245.86 1163.3,257.51 1319.3,290.13" fill="none" stroke="#85194f" stroke-width="3.5" stroke-linejoin="round"/><circle cx="1063.3" cy="42.6" r="7.6" fill="#8a285a" stroke="#7a0843" stroke-width="1.2"/><circle cx="1085.6" cy="213.49" r="7.6" fill="#8a285a" stroke="#7a0843" stroke-width="1.2"/><circle cx="1110.7" cy="245.86" r="7.6" fill="#8a285a" stroke="#7a0843" stroke-width="1.2"/><circle cx="1163.3" cy="257.51" r="7.6" fill="#8a285a" stroke="#7a0843" stroke-width="1.2"/><circle cx="1319.3" cy="290.13" r="7.6" fill="#8a285a" stroke="#7a0843" stroke-width="1.2"/>
<text x="941.96" y="46.6" font-size="45.5" font-weight="bold" textLength="28.94" lengthAdjust="spacingAndGlyphs" fill="#000">C</text>
<line x1="1151.7" y1="51.3" x2="1178.9" y2="51.3" stroke="#4f9f55" stroke-width="3.2" stroke-linecap="butt"/>
<circle cx="1165.6" cy="51.3" r="6" fill="#4f9f55"/>
<line x1="1151.7" y1="85.9" x2="1178.9" y2="85.9" stroke="#5a5fa5" stroke-width="3.2" stroke-linecap="butt"/>
<circle cx="1165.6" cy="85.9" r="6" fill="#5a5fa5"/>
<line x1="1151.7" y1="119.9" x2="1178.9" y2="119.9" stroke="#8e2e66" stroke-width="3.2" stroke-linecap="butt"/>
<circle cx="1165.6" cy="119.9" r="6" fill="#8e2e66"/>
<text x="1176.72" y="67.2" font-size="42.5" fill="#000">Protein</text>
<text x="1176.73" y="101" font-size="42.5" textLength="89.35" lengthAdjust="spacingAndGlyphs" fill="#000">RNA</text>
<text x="1176.7" y="135" font-size="42.5" fill="#000">Lipid</text>
<text x="-266.93" y="977.4" font-size="42" font-style="italic" textLength="26.01" lengthAdjust="spacingAndGlyphs" fill="#000" transform="rotate(-90)">T</text>
<text x="-242.03" y="977.4" font-size="30" textLength="69.05" lengthAdjust="spacingAndGlyphs" fill="#000" transform="rotate(-90)">B, on</text>
<text x="-162.97" y="977.4" font-size="42" textLength="50.13" lengthAdjust="spacingAndGlyphs" fill="#000" transform="rotate(-90)">(s)</text>
<text x="822.42" y="487.6" font-size="42" textLength="285.37" lengthAdjust="spacingAndGlyphs" fill="#000">[AMUPol] (mM)</text>
<path d="M137.6,602.3 L431.6,602.3 L431.6,907.9 L137.6,907.9 Z" fill="none" stroke="#0d0d0d" stroke-width="3.9" stroke-linejoin="round"/>
<path d="M137.6,942.9 L431.6,942.9 L431.6,1008.6 L137.6,1008.6 Z" fill="none" stroke="#0d0d0d" stroke-width="3.9" stroke-linejoin="round"/>
<line x1="117.3" y1="907.9" x2="137.6" y2="907.9" stroke="#0d0d0d" stroke-width="3.6" stroke-linecap="butt"/>
<line x1="123.1" y1="880.12" x2="137.6" y2="880.12" stroke="#0d0d0d" stroke-width="3.6" stroke-linecap="butt"/>
<line x1="123.1" y1="852.34" x2="137.6" y2="852.34" stroke="#0d0d0d" stroke-width="3.6" stroke-linecap="butt"/>
<line x1="123.1" y1="824.56" x2="137.6" y2="824.56" stroke="#0d0d0d" stroke-width="3.6" stroke-linecap="butt"/>
<line x1="123.1" y1="796.78" x2="137.6" y2="796.78" stroke="#0d0d0d" stroke-width="3.6" stroke-linecap="butt"/>
<line x1="117.3" y1="769" x2="137.6" y2="769" stroke="#0d0d0d" stroke-width="3.6" stroke-linecap="butt"/>
<line x1="123.1" y1="741.22" x2="137.6" y2="741.22" stroke="#0d0d0d" stroke-width="3.6" stroke-linecap="butt"/>
<line x1="123.1" y1="713.44" x2="137.6" y2="713.44" stroke="#0d0d0d" stroke-width="3.6" stroke-linecap="butt"/>
<line x1="123.1" y1="685.66" x2="137.6" y2="685.66" stroke="#0d0d0d" stroke-width="3.6" stroke-linecap="butt"/>
<line x1="123.1" y1="657.88" x2="137.6" y2="657.88" stroke="#0d0d0d" stroke-width="3.6" stroke-linecap="butt"/>
<line x1="117.3" y1="630.1" x2="137.6" y2="630.1" stroke="#0d0d0d" stroke-width="3.6" stroke-linecap="butt"/>
<text x="59.49" y="645.8" font-size="42" textLength="56.7" lengthAdjust="spacingAndGlyphs" fill="#000">1.0</text>
<text x="58.67" y="784.2" font-size="42" textLength="57.87" lengthAdjust="spacingAndGlyphs" fill="#000">0.5</text>
<text x="93.01" y="921" font-size="42" textLength="22.69" lengthAdjust="spacingAndGlyphs" fill="#000">0</text>
<line x1="123.1" y1="948.3" x2="137.6" y2="948.3" stroke="#0d0d0d" stroke-width="3.6" stroke-linecap="butt"/>
<line x1="123.1" y1="1002.9" x2="137.6" y2="1002.9" stroke="#0d0d0d" stroke-width="3.6" stroke-linecap="butt"/>
<line x1="117.6" y1="975.6" x2="431.6" y2="975.6" stroke="#0d0d0d" stroke-width="3.6" stroke-linecap="butt"/>
<text x="66.32" y="957.4" font-size="42" textLength="52.52" lengthAdjust="spacingAndGlyphs" fill="#000">0.1</text>
<text x="92.53" y="991.7" font-size="42" textLength="22.34" lengthAdjust="spacingAndGlyphs" fill="#000">0</text>
<text x="52.18" y="1021.8" font-size="42" textLength="66.71" lengthAdjust="spacingAndGlyphs" fill="#000">-0.1</text>
<line x1="150.6" y1="1008.6" x2="150.6" y2="1026.7" stroke="#0d0d0d" stroke-width="3.6" stroke-linecap="butt"/>
<line x1="187.8" y1="1008.6" x2="187.8" y2="1019.8" stroke="#0d0d0d" stroke-width="3.6" stroke-linecap="butt"/>
<line x1="225" y1="1008.6" x2="225" y2="1026.7" stroke="#0d0d0d" stroke-width="3.6" stroke-linecap="butt"/>
<line x1="262.2" y1="1008.6" x2="262.2" y2="1019.8" stroke="#0d0d0d" stroke-width="3.6" stroke-linecap="butt"/>
<line x1="299.4" y1="1008.6" x2="299.4" y2="1026.7" stroke="#0d0d0d" stroke-width="3.6" stroke-linecap="butt"/>
<line x1="336.6" y1="1008.6" x2="336.6" y2="1019.8" stroke="#0d0d0d" stroke-width="3.6" stroke-linecap="butt"/>
<line x1="373.8" y1="1008.6" x2="373.8" y2="1026.7" stroke="#0d0d0d" stroke-width="3.6" stroke-linecap="butt"/>
<line x1="411" y1="1008.6" x2="411" y2="1019.8" stroke="#0d0d0d" stroke-width="3.6" stroke-linecap="butt"/>
<text x="138.26" y="1061.6" font-size="42" fill="#000">0</text>
<text x="203.83" y="1061.6" font-size="42" textLength="45.89" lengthAdjust="spacingAndGlyphs" fill="#000">20</text>
<text x="278.25" y="1061.6" font-size="42" textLength="45.96" lengthAdjust="spacingAndGlyphs" fill="#000">40</text>
<text x="351.64" y="1061.6" font-size="42" textLength="47.21" lengthAdjust="spacingAndGlyphs" fill="#000">60</text>
<circle cx="151.2" cy="901.1" r="7.0" fill="#358a45" stroke="#358a45" stroke-width="2.4"/><circle cx="152.7" cy="873.1" r="7.0" fill="#358a45" stroke="#358a45" stroke-width="2.4"/><circle cx="154.6" cy="843.9" r="7.0" fill="#358a45" stroke="#358a45" stroke-width="2.4"/><circle cx="156.4" cy="819.3" r="7.0" fill="#358a45" stroke="#358a45" stroke-width="2.4"/><circle cx="160.1" cy="783.6" r="7.0" fill="#358a45" stroke="#358a45" stroke-width="2.4"/><circle cx="162.3" cy="769.9" r="7.0" fill="#358a45" stroke="#358a45" stroke-width="2.4"/><circle cx="163.7" cy="756.6" r="7.0" fill="#358a45" stroke="#358a45" stroke-width="2.4"/><circle cx="169.5" cy="726.7" r="7.0" fill="#358a45" stroke="#358a45" stroke-width="2.4"/><circle cx="178.8" cy="694.3" r="7.0" fill="#358a45" stroke="#358a45" stroke-width="2.4"/><circle cx="188.5" cy="673.5" r="7.0" fill="#358a45" stroke="#358a45" stroke-width="2.4"/><circle cx="206.6" cy="649.2" r="7.0" fill="#358a45" stroke="#358a45" stroke-width="2.4"/><circle cx="262.2" cy="625" r="7.0" fill="#358a45" stroke="#358a45" stroke-width="2.4"/><circle cx="373.5" cy="614.9" r="7.0" fill="#358a45" stroke="#358a45" stroke-width="2.4"/><circle cx="151.2" cy="901.1" r="6.6" fill="#56965f"/><circle cx="152.7" cy="873.1" r="6.6" fill="#56965f"/><circle cx="154.6" cy="843.9" r="6.6" fill="#56965f"/><circle cx="156.4" cy="819.3" r="6.6" fill="#56965f"/><circle cx="160.1" cy="783.6" r="6.6" fill="#56965f"/><circle cx="162.3" cy="769.9" r="6.6" fill="#56965f"/><circle cx="163.7" cy="756.6" r="6.6" fill="#56965f"/><circle cx="169.5" cy="726.7" r="6.6" fill="#56965f"/><circle cx="178.8" cy="694.3" r="6.6" fill="#56965f"/><circle cx="188.5" cy="673.5" r="6.6" fill="#56965f"/><circle cx="206.6" cy="649.2" r="6.6" fill="#56965f"/><circle cx="262.2" cy="625" r="6.6" fill="#56965f"/><circle cx="373.5" cy="614.9" r="6.6" fill="#56965f"/>
<polyline points="150.6,907.9 151.53,893.21 152.46,879.29 153.39,866.11 154.32,853.62 155.25,841.8 156.18,830.6 157.11,819.99 158.04,809.95 158.97,800.44 159.9,791.43 160.83,782.89 161.76,774.81 162.69,767.15 163.62,759.9 164.55,753.04 165.48,746.54 166.41,740.38 167.34,734.54 168.27,729.02 169.2,723.79 170.13,718.83 171.06,714.14 171.99,709.69 172.92,705.48 173.85,701.49 174.78,697.72 175.71,694.14 176.64,690.75 177.57,687.54 178.5,684.51 179.43,681.63 180.36,678.9 181.29,676.32 182.22,673.88 183.15,671.56 184.08,669.37 185.01,667.29 185.94,665.32 186.87,663.46 187.8,661.69 188.73,660.02 189.66,658.44 190.59,656.94 191.52,655.52 192.45,654.18 193.38,652.9 194.31,651.7 195.24,650.55 196.17,649.47 197.1,648.45 198.03,647.48 198.96,646.56 199.89,645.69 200.82,644.86 201.75,644.08 202.68,643.34 203.61,642.64 204.54,641.98 205.47,641.35 206.4,640.76 207.33,640.19 208.26,639.66 209.19,639.15 210.12,638.67 211.05,638.22 211.98,637.79 212.91,637.38 213.84,637 214.77,636.63 215.7,636.29 216.63,635.96 217.56,635.65 218.49,635.36 219.42,635.08 220.35,634.82 221.28,634.57 222.21,634.33 223.14,634.11 224.07,633.89 225,633.69 228.72,632.99 232.44,632.43 236.16,631.97 239.88,631.61 243.6,631.31 247.32,631.08 251.04,630.88 254.76,630.73 258.48,630.61 262.2,630.51 265.92,630.43 269.64,630.36 273.36,630.31 277.08,630.27 280.8,630.24 284.52,630.21 288.24,630.19 291.96,630.17 295.68,630.16 299.4,630.15 303.12,630.14 306.84,630.13 310.56,630.12 314.28,630.12 318,630.12 321.72,630.11 325.44,630.11 329.16,630.11 332.88,630.11 336.6,630.11 340.32,630.1 344.04,630.1 347.76,630.1 351.48,630.1 355.2,630.1 358.92,630.1 362.64,630.1 366.36,630.1 370.08,630.1 373.8,630.1 377.52,630.1 381.24,630.1 384.96,630.1 388.68,630.1 392.4,630.1 396.12,630.1 399.84,630.1 403.56,630.1 407.28,630.1 411,630.1 414.72,630.1 418.44,630.1 419.93,630.1" fill="none" stroke="#111" stroke-width="4.0" stroke-linejoin="round"/>
<circle cx="151.2" cy="974.6" r="7.0" fill="#358a45" stroke="#358a45" stroke-width="2.4"/><circle cx="152.7" cy="969.5" r="7.0" fill="#358a45" stroke="#358a45" stroke-width="2.4"/><circle cx="154.6" cy="966.5" r="7.0" fill="#358a45" stroke="#358a45" stroke-width="2.4"/><circle cx="156.4" cy="965.1" r="7.0" fill="#358a45" stroke="#358a45" stroke-width="2.4"/><circle cx="160.1" cy="967.5" r="7.0" fill="#358a45" stroke="#358a45" stroke-width="2.4"/><circle cx="162.3" cy="969.5" r="7.0" fill="#358a45" stroke="#358a45" stroke-width="2.4"/><circle cx="163.7" cy="971.5" r="7.0" fill="#358a45" stroke="#358a45" stroke-width="2.4"/><circle cx="169.5" cy="979.4" r="7.0" fill="#358a45" stroke="#358a45" stroke-width="2.4"/><circle cx="178.8" cy="985.9" r="7.0" fill="#358a45" stroke="#358a45" stroke-width="2.4"/><circle cx="188.5" cy="987.7" r="7.0" fill="#358a45" stroke="#358a45" stroke-width="2.4"/><circle cx="206.6" cy="983.8" r="7.0" fill="#358a45" stroke="#358a45" stroke-width="2.4"/><circle cx="262.2" cy="970.7" r="7.0" fill="#358a45" stroke="#358a45" stroke-width="2.4"/><circle cx="373.5" cy="961" r="7.0" fill="#358a45" stroke="#358a45" stroke-width="2.4"/><circle cx="151.2" cy="974.6" r="6.6" fill="#56965f"/><circle cx="152.7" cy="969.5" r="6.6" fill="#56965f"/><circle cx="154.6" cy="966.5" r="6.6" fill="#56965f"/><circle cx="156.4" cy="965.1" r="6.6" fill="#56965f"/><circle cx="160.1" cy="967.5" r="6.6" fill="#56965f"/><circle cx="162.3" cy="969.5" r="6.6" fill="#56965f"/><circle cx="163.7" cy="971.5" r="6.6" fill="#56965f"/><circle cx="169.5" cy="979.4" r="6.6" fill="#56965f"/><circle cx="178.8" cy="985.9" r="6.6" fill="#56965f"/><circle cx="188.5" cy="987.7" r="6.6" fill="#56965f"/><circle cx="206.6" cy="983.8" r="6.6" fill="#56965f"/><circle cx="262.2" cy="970.7" r="6.6" fill="#56965f"/><circle cx="373.5" cy="961" r="6.6" fill="#56965f"/>
<text x="296.83" y="810.2" font-size="42" textLength="127.18" lengthAdjust="spacingAndGlyphs" fill="#000">10 mM</text>
<text x="200.35" y="854.4" font-size="42" font-style="italic" textLength="25.48" lengthAdjust="spacingAndGlyphs" fill="#000">T</text>
<text x="223.3" y="854.4" font-size="28" textLength="60.2" lengthAdjust="spacingAndGlyphs" fill="#000">B,on</text>
<text x="295.16" y="854.4" font-size="42" textLength="126.34" lengthAdjust="spacingAndGlyphs" fill="#000">= 4.6 s</text>
<text x="252.55" y="898.1" font-size="42" textLength="167.73" lengthAdjust="spacingAndGlyphs" fill="#000">σ = 3.0%</text>
<text x="-947.21" y="52.2" font-size="42" fill="#000" transform="rotate(-90)">intensity (A.U.)</text>
<text x="24.03" y="608" font-size="45.5" font-weight="bold" textLength="30.97" lengthAdjust="spacingAndGlyphs" fill="#000">D</text>
<path d="M594.2,602.3 L888.2,602.3 L888.2,907.9 L594.2,907.9 Z" fill="none" stroke="#0d0d0d" stroke-width="3.9" stroke-linejoin="round"/>
<path d="M594.2,942.9 L888.2,942.9 L888.2,1008.6 L594.2,1008.6 Z" fill="none" stroke="#0d0d0d" stroke-width="3.9" stroke-linejoin="round"/>
<line x1="573.9" y1="907.9" x2="594.2" y2="907.9" stroke="#0d0d0d" stroke-width="3.6" stroke-linecap="butt"/>
<line x1="579.7" y1="880.12" x2="594.2" y2="880.12" stroke="#0d0d0d" stroke-width="3.6" stroke-linecap="butt"/>
<line x1="579.7" y1="852.34" x2="594.2" y2="852.34" stroke="#0d0d0d" stroke-width="3.6" stroke-linecap="butt"/>
<line x1="579.7" y1="824.56" x2="594.2" y2="824.56" stroke="#0d0d0d" stroke-width="3.6" stroke-linecap="butt"/>
<line x1="579.7" y1="796.78" x2="594.2" y2="796.78" stroke="#0d0d0d" stroke-width="3.6" stroke-linecap="butt"/>
<line x1="573.9" y1="769" x2="594.2" y2="769" stroke="#0d0d0d" stroke-width="3.6" stroke-linecap="butt"/>
<line x1="579.7" y1="741.22" x2="594.2" y2="741.22" stroke="#0d0d0d" stroke-width="3.6" stroke-linecap="butt"/>
<line x1="579.7" y1="713.44" x2="594.2" y2="713.44" stroke="#0d0d0d" stroke-width="3.6" stroke-linecap="butt"/>
<line x1="579.7" y1="685.66" x2="594.2" y2="685.66" stroke="#0d0d0d" stroke-width="3.6" stroke-linecap="butt"/>
<line x1="579.7" y1="657.88" x2="594.2" y2="657.88" stroke="#0d0d0d" stroke-width="3.6" stroke-linecap="butt"/>
<line x1="573.9" y1="630.1" x2="594.2" y2="630.1" stroke="#0d0d0d" stroke-width="3.6" stroke-linecap="butt"/>
<text x="516.09" y="645.8" font-size="42" textLength="56.7" lengthAdjust="spacingAndGlyphs" fill="#000">1.0</text>
<text x="515.27" y="784.2" font-size="42" textLength="57.87" lengthAdjust="spacingAndGlyphs" fill="#000">0.5</text>
<text x="549.61" y="921" font-size="42" textLength="22.69" lengthAdjust="spacingAndGlyphs" fill="#000">0</text>
<line x1="579.7" y1="948.3" x2="594.2" y2="948.3" stroke="#0d0d0d" stroke-width="3.6" stroke-linecap="butt"/>
<line x1="579.7" y1="1002.9" x2="594.2" y2="1002.9" stroke="#0d0d0d" stroke-width="3.6" stroke-linecap="butt"/>
<line x1="574.2" y1="975.6" x2="888.2" y2="975.6" stroke="#0d0d0d" stroke-width="3.6" stroke-linecap="butt"/>
<text x="522.92" y="957.4" font-size="42" textLength="52.52" lengthAdjust="spacingAndGlyphs" fill="#000">0.1</text>
<text x="549.13" y="991.7" font-size="42" textLength="22.34" lengthAdjust="spacingAndGlyphs" fill="#000">0</text>
<text x="508.78" y="1021.8" font-size="42" textLength="66.71" lengthAdjust="spacingAndGlyphs" fill="#000">-0.1</text>
<line x1="607.2" y1="1008.6" x2="607.2" y2="1026.7" stroke="#0d0d0d" stroke-width="3.6" stroke-linecap="butt"/>
<line x1="644.4" y1="1008.6" x2="644.4" y2="1019.8" stroke="#0d0d0d" stroke-width="3.6" stroke-linecap="butt"/>
<line x1="681.6" y1="1008.6" x2="681.6" y2="1026.7" stroke="#0d0d0d" stroke-width="3.6" stroke-linecap="butt"/>
<line x1="718.8" y1="1008.6" x2="718.8" y2="1019.8" stroke="#0d0d0d" stroke-width="3.6" stroke-linecap="butt"/>
<line x1="756" y1="1008.6" x2="756" y2="1026.7" stroke="#0d0d0d" stroke-width="3.6" stroke-linecap="butt"/>
<line x1="793.2" y1="1008.6" x2="793.2" y2="1019.8" stroke="#0d0d0d" stroke-width="3.6" stroke-linecap="butt"/>
<line x1="830.4" y1="1008.6" x2="830.4" y2="1026.7" stroke="#0d0d0d" stroke-width="3.6" stroke-linecap="butt"/>
<line x1="867.6" y1="1008.6" x2="867.6" y2="1019.8" stroke="#0d0d0d" stroke-width="3.6" stroke-linecap="butt"/>
<text x="594.86" y="1061.6" font-size="42" fill="#000">0</text>
<text x="660.43" y="1061.6" font-size="42" textLength="45.89" lengthAdjust="spacingAndGlyphs" fill="#000">20</text>
<text x="734.85" y="1061.6" font-size="42" textLength="45.96" lengthAdjust="spacingAndGlyphs" fill="#000">40</text>
<text x="808.24" y="1061.6" font-size="42" textLength="47.21" lengthAdjust="spacingAndGlyphs" fill="#000">60</text>
<circle cx="607" cy="901.1" r="7.0" fill="#3c4187" stroke="#3c4187" stroke-width="2.4"/><circle cx="608.9" cy="874.6" r="7.0" fill="#3c4187" stroke="#3c4187" stroke-width="2.4"/><circle cx="610.6" cy="843.9" r="7.0" fill="#3c4187" stroke="#3c4187" stroke-width="2.4"/><circle cx="612.9" cy="815.6" r="7.0" fill="#3c4187" stroke="#3c4187" stroke-width="2.4"/><circle cx="616.5" cy="781" r="7.0" fill="#3c4187" stroke="#3c4187" stroke-width="2.4"/><circle cx="618.3" cy="769.2" r="7.0" fill="#3c4187" stroke="#3c4187" stroke-width="2.4"/><circle cx="620.2" cy="757.4" r="7.0" fill="#3c4187" stroke="#3c4187" stroke-width="2.4"/><circle cx="625.5" cy="723.5" r="7.0" fill="#3c4187" stroke="#3c4187" stroke-width="2.4"/><circle cx="635.2" cy="692.3" r="7.0" fill="#3c4187" stroke="#3c4187" stroke-width="2.4"/><circle cx="644.5" cy="670" r="7.0" fill="#3c4187" stroke="#3c4187" stroke-width="2.4"/><circle cx="663" cy="647.8" r="7.0" fill="#3c4187" stroke="#3c4187" stroke-width="2.4"/><circle cx="718.4" cy="627" r="7.0" fill="#3c4187" stroke="#3c4187" stroke-width="2.4"/><circle cx="829.7" cy="615.2" r="7.0" fill="#3c4187" stroke="#3c4187" stroke-width="2.4"/><circle cx="607" cy="901.1" r="6.6" fill="#5a5f96"/><circle cx="608.9" cy="874.6" r="6.6" fill="#5a5f96"/><circle cx="610.6" cy="843.9" r="6.6" fill="#5a5f96"/><circle cx="612.9" cy="815.6" r="6.6" fill="#5a5f96"/><circle cx="616.5" cy="781" r="6.6" fill="#5a5f96"/><circle cx="618.3" cy="769.2" r="6.6" fill="#5a5f96"/><circle cx="620.2" cy="757.4" r="6.6" fill="#5a5f96"/><circle cx="625.5" cy="723.5" r="6.6" fill="#5a5f96"/><circle cx="635.2" cy="692.3" r="6.6" fill="#5a5f96"/><circle cx="644.5" cy="670" r="6.6" fill="#5a5f96"/><circle cx="663" cy="647.8" r="6.6" fill="#5a5f96"/><circle cx="718.4" cy="627" r="6.6" fill="#5a5f96"/><circle cx="829.7" cy="615.2" r="6.6" fill="#5a5f96"/>
<polyline points="607.2,907.9 608.13,892.56 609.06,878.06 609.99,864.36 610.92,851.42 611.85,839.2 612.78,827.65 613.71,816.74 614.64,806.43 615.57,796.69 616.5,787.49 617.43,778.8 618.36,770.58 619.29,762.82 620.22,755.49 621.15,748.57 622.08,742.02 623.01,735.84 623.94,730 624.87,724.48 625.8,719.27 626.73,714.34 627.66,709.69 628.59,705.29 629.52,701.14 630.45,697.22 631.38,693.51 632.31,690.01 633.24,686.7 634.17,683.57 635.1,680.62 636.03,677.83 636.96,675.19 637.89,672.7 638.82,670.35 639.75,668.13 640.68,666.03 641.61,664.04 642.54,662.17 643.47,660.4 644.4,658.72 645.33,657.14 646.26,655.65 647.19,654.24 648.12,652.9 649.05,651.64 649.98,650.45 650.91,649.33 651.84,648.27 652.77,647.26 653.7,646.32 654.63,645.42 655.56,644.57 656.49,643.77 657.42,643.02 658.35,642.31 659.28,641.63 660.21,640.99 661.14,640.39 662.07,639.82 663,639.29 663.93,638.78 664.86,638.3 665.79,637.85 666.72,637.42 667.65,637.02 668.58,636.63 669.51,636.27 670.44,635.93 671.37,635.61 672.3,635.31 673.23,635.02 674.16,634.75 675.09,634.49 676.02,634.25 676.95,634.02 677.88,633.8 678.81,633.6 679.74,633.4 680.67,633.22 681.6,633.05 685.32,632.45 689.04,631.97 692.76,631.59 696.48,631.29 700.2,631.05 703.92,630.85 707.64,630.7 711.36,630.58 715.08,630.48 718.8,630.4 722.52,630.34 726.24,630.29 729.96,630.25 733.68,630.22 737.4,630.2 741.12,630.18 744.84,630.16 748.56,630.15 752.28,630.14 756,630.13 759.72,630.12 763.44,630.12 767.16,630.12 770.88,630.11 774.6,630.11 778.32,630.11 782.04,630.11 785.76,630.11 789.48,630.1 793.2,630.1 796.92,630.1 800.64,630.1 804.36,630.1 808.08,630.1 811.8,630.1 815.52,630.1 819.24,630.1 822.96,630.1 826.68,630.1 830.4,630.1 834.12,630.1 837.84,630.1 841.56,630.1 845.28,630.1 849,630.1 852.72,630.1 856.44,630.1 860.16,630.1 863.88,630.1 867.6,630.1 871.32,630.1 875.04,630.1 876.53,630.1" fill="none" stroke="#111" stroke-width="4.0" stroke-linejoin="round"/>
<circle cx="607" cy="974.4" r="7.0" fill="#3c4187" stroke="#3c4187" stroke-width="2.4"/><circle cx="608.9" cy="969.5" r="7.0" fill="#3c4187" stroke="#3c4187" stroke-width="2.4"/><circle cx="610.6" cy="965.5" r="7.0" fill="#3c4187" stroke="#3c4187" stroke-width="2.4"/><circle cx="612.9" cy="963.6" r="7.0" fill="#3c4187" stroke="#3c4187" stroke-width="2.4"/><circle cx="616.5" cy="965.5" r="7.0" fill="#3c4187" stroke="#3c4187" stroke-width="2.4"/><circle cx="618.3" cy="968" r="7.0" fill="#3c4187" stroke="#3c4187" stroke-width="2.4"/><circle cx="620.2" cy="970" r="7.0" fill="#3c4187" stroke="#3c4187" stroke-width="2.4"/><circle cx="625.5" cy="976.5" r="7.0" fill="#3c4187" stroke="#3c4187" stroke-width="2.4"/><circle cx="635.2" cy="986.2" r="7.0" fill="#3c4187" stroke="#3c4187" stroke-width="2.4"/><circle cx="644.5" cy="986.2" r="7.0" fill="#3c4187" stroke="#3c4187" stroke-width="2.4"/><circle cx="663" cy="983.2" r="7.0" fill="#3c4187" stroke="#3c4187" stroke-width="2.4"/><circle cx="718.4" cy="972.3" r="7.0" fill="#3c4187" stroke="#3c4187" stroke-width="2.4"/><circle cx="829.7" cy="961" r="7.0" fill="#3c4187" stroke="#3c4187" stroke-width="2.4"/><circle cx="607" cy="974.4" r="6.6" fill="#5a5f96"/><circle cx="608.9" cy="969.5" r="6.6" fill="#5a5f96"/><circle cx="610.6" cy="965.5" r="6.6" fill="#5a5f96"/><circle cx="612.9" cy="963.6" r="6.6" fill="#5a5f96"/><circle cx="616.5" cy="965.5" r="6.6" fill="#5a5f96"/><circle cx="618.3" cy="968" r="6.6" fill="#5a5f96"/><circle cx="620.2" cy="970" r="6.6" fill="#5a5f96"/><circle cx="625.5" cy="976.5" r="6.6" fill="#5a5f96"/><circle cx="635.2" cy="986.2" r="6.6" fill="#5a5f96"/><circle cx="644.5" cy="986.2" r="6.6" fill="#5a5f96"/><circle cx="663" cy="983.2" r="6.6" fill="#5a5f96"/><circle cx="718.4" cy="972.3" r="6.6" fill="#5a5f96"/><circle cx="829.7" cy="961" r="6.6" fill="#5a5f96"/>
<text x="752.13" y="810.2" font-size="42" textLength="127.18" lengthAdjust="spacingAndGlyphs" fill="#000">10 mM</text>
<text x="655.65" y="854.4" font-size="42" font-style="italic" textLength="25.48" lengthAdjust="spacingAndGlyphs" fill="#000">T</text>
<text x="678.6" y="854.4" font-size="28" textLength="60.2" lengthAdjust="spacingAndGlyphs" fill="#000">B,on</text>
<text x="750.46" y="854.4" font-size="42" textLength="126.34" lengthAdjust="spacingAndGlyphs" fill="#000">= 4.4 s</text>
<text x="707.85" y="898.1" font-size="42" textLength="167.73" lengthAdjust="spacingAndGlyphs" fill="#000">σ = 2.9%</text>
<text x="-947.21" y="508.8" font-size="42" fill="#000" transform="rotate(-90)">intensity (A.U.)</text>
<text x="477.67" y="608" font-size="45.5" font-weight="bold" textLength="27.22" lengthAdjust="spacingAndGlyphs" fill="#000">E</text>
<path d="M1046.4,602.3 L1340.4,602.3 L1340.4,907.9 L1046.4,907.9 Z" fill="none" stroke="#0d0d0d" stroke-width="3.9" stroke-linejoin="round"/>
<path d="M1046.4,942.9 L1340.4,942.9 L1340.4,1008.6 L1046.4,1008.6 Z" fill="none" stroke="#0d0d0d" stroke-width="3.9" stroke-linejoin="round"/>
<line x1="1026.1" y1="907.9" x2="1046.4" y2="907.9" stroke="#0d0d0d" stroke-width="3.6" stroke-linecap="butt"/>
<line x1="1031.9" y1="880.12" x2="1046.4" y2="880.12" stroke="#0d0d0d" stroke-width="3.6" stroke-linecap="butt"/>
<line x1="1031.9" y1="852.34" x2="1046.4" y2="852.34" stroke="#0d0d0d" stroke-width="3.6" stroke-linecap="butt"/>
<line x1="1031.9" y1="824.56" x2="1046.4" y2="824.56" stroke="#0d0d0d" stroke-width="3.6" stroke-linecap="butt"/>
<line x1="1031.9" y1="796.78" x2="1046.4" y2="796.78" stroke="#0d0d0d" stroke-width="3.6" stroke-linecap="butt"/>
<line x1="1026.1" y1="769" x2="1046.4" y2="769" stroke="#0d0d0d" stroke-width="3.6" stroke-linecap="butt"/>
<line x1="1031.9" y1="741.22" x2="1046.4" y2="741.22" stroke="#0d0d0d" stroke-width="3.6" stroke-linecap="butt"/>
<line x1="1031.9" y1="713.44" x2="1046.4" y2="713.44" stroke="#0d0d0d" stroke-width="3.6" stroke-linecap="butt"/>
<line x1="1031.9" y1="685.66" x2="1046.4" y2="685.66" stroke="#0d0d0d" stroke-width="3.6" stroke-linecap="butt"/>
<line x1="1031.9" y1="657.88" x2="1046.4" y2="657.88" stroke="#0d0d0d" stroke-width="3.6" stroke-linecap="butt"/>
<line x1="1026.1" y1="630.1" x2="1046.4" y2="630.1" stroke="#0d0d0d" stroke-width="3.6" stroke-linecap="butt"/>
<text x="968.29" y="645.8" font-size="42" textLength="56.7" lengthAdjust="spacingAndGlyphs" fill="#000">1.0</text>
<text x="967.47" y="784.2" font-size="42" textLength="57.87" lengthAdjust="spacingAndGlyphs" fill="#000">0.5</text>
<text x="1001.81" y="921" font-size="42" textLength="22.69" lengthAdjust="spacingAndGlyphs" fill="#000">0</text>
<line x1="1031.9" y1="948.3" x2="1046.4" y2="948.3" stroke="#0d0d0d" stroke-width="3.6" stroke-linecap="butt"/>
<line x1="1031.9" y1="1002.9" x2="1046.4" y2="1002.9" stroke="#0d0d0d" stroke-width="3.6" stroke-linecap="butt"/>
<line x1="1026.4" y1="975.6" x2="1340.4" y2="975.6" stroke="#0d0d0d" stroke-width="3.6" stroke-linecap="butt"/>
<text x="975.12" y="957.4" font-size="42" textLength="52.52" lengthAdjust="spacingAndGlyphs" fill="#000">0.1</text>
<text x="1001.33" y="991.7" font-size="42" textLength="22.34" lengthAdjust="spacingAndGlyphs" fill="#000">0</text>
<text x="960.98" y="1021.8" font-size="42" textLength="66.71" lengthAdjust="spacingAndGlyphs" fill="#000">-0.1</text>
<line x1="1059.4" y1="1008.6" x2="1059.4" y2="1026.7" stroke="#0d0d0d" stroke-width="3.6" stroke-linecap="butt"/>
<line x1="1096.6" y1="1008.6" x2="1096.6" y2="1019.8" stroke="#0d0d0d" stroke-width="3.6" stroke-linecap="butt"/>
<line x1="1133.8" y1="1008.6" x2="1133.8" y2="1026.7" stroke="#0d0d0d" stroke-width="3.6" stroke-linecap="butt"/>
<line x1="1171" y1="1008.6" x2="1171" y2="1019.8" stroke="#0d0d0d" stroke-width="3.6" stroke-linecap="butt"/>
<line x1="1208.2" y1="1008.6" x2="1208.2" y2="1026.7" stroke="#0d0d0d" stroke-width="3.6" stroke-linecap="butt"/>
<line x1="1245.4" y1="1008.6" x2="1245.4" y2="1019.8" stroke="#0d0d0d" stroke-width="3.6" stroke-linecap="butt"/>
<line x1="1282.6" y1="1008.6" x2="1282.6" y2="1026.7" stroke="#0d0d0d" stroke-width="3.6" stroke-linecap="butt"/>
<line x1="1319.8" y1="1008.6" x2="1319.8" y2="1019.8" stroke="#0d0d0d" stroke-width="3.6" stroke-linecap="butt"/>
<text x="1047.06" y="1061.6" font-size="42" fill="#000">0</text>
<text x="1112.63" y="1061.6" font-size="42" textLength="45.89" lengthAdjust="spacingAndGlyphs" fill="#000">20</text>
<text x="1187.05" y="1061.6" font-size="42" textLength="45.96" lengthAdjust="spacingAndGlyphs" fill="#000">40</text>
<text x="1260.44" y="1061.6" font-size="42" textLength="47.21" lengthAdjust="spacingAndGlyphs" fill="#000">60</text>
<circle cx="1060" cy="903.3" r="7.0" fill="#820f50" stroke="#820f50" stroke-width="2.4"/><circle cx="1061.5" cy="880" r="7.0" fill="#820f50" stroke="#820f50" stroke-width="2.4"/><circle cx="1063.4" cy="853.9" r="7.0" fill="#820f50" stroke="#820f50" stroke-width="2.4"/><circle cx="1065.2" cy="830.8" r="7.0" fill="#820f50" stroke="#820f50" stroke-width="2.4"/><circle cx="1068.9" cy="795.4" r="7.0" fill="#820f50" stroke="#820f50" stroke-width="2.4"/><circle cx="1070.8" cy="781" r="7.0" fill="#820f50" stroke="#820f50" stroke-width="2.4"/><circle cx="1072.7" cy="767.7" r="7.0" fill="#820f50" stroke="#820f50" stroke-width="2.4"/><circle cx="1078.4" cy="736.5" r="7.0" fill="#820f50" stroke="#820f50" stroke-width="2.4"/><circle cx="1087.8" cy="703" r="7.0" fill="#820f50" stroke="#820f50" stroke-width="2.4"/><circle cx="1097.1" cy="681.2" r="7.0" fill="#820f50" stroke="#820f50" stroke-width="2.4"/><circle cx="1115.6" cy="655.1" r="7.0" fill="#820f50" stroke="#820f50" stroke-width="2.4"/><circle cx="1171" cy="628" r="7.0" fill="#820f50" stroke="#820f50" stroke-width="2.4"/><circle cx="1282.4" cy="617.5" r="7.0" fill="#820f50" stroke="#820f50" stroke-width="2.4"/><circle cx="1060" cy="903.3" r="6.6" fill="#913769"/><circle cx="1061.5" cy="880" r="6.6" fill="#913769"/><circle cx="1063.4" cy="853.9" r="6.6" fill="#913769"/><circle cx="1065.2" cy="830.8" r="6.6" fill="#913769"/><circle cx="1068.9" cy="795.4" r="6.6" fill="#913769"/><circle cx="1070.8" cy="781" r="6.6" fill="#913769"/><circle cx="1072.7" cy="767.7" r="6.6" fill="#913769"/><circle cx="1078.4" cy="736.5" r="6.6" fill="#913769"/><circle cx="1087.8" cy="703" r="6.6" fill="#913769"/><circle cx="1097.1" cy="681.2" r="6.6" fill="#913769"/><circle cx="1115.6" cy="655.1" r="6.6" fill="#913769"/><circle cx="1171" cy="628" r="6.6" fill="#913769"/><circle cx="1282.4" cy="617.5" r="6.6" fill="#913769"/>
<polyline points="1059.4,907.9 1060.33,894.86 1061.26,882.43 1062.19,870.59 1063.12,859.3 1064.05,848.54 1064.98,838.29 1065.91,828.52 1066.84,819.2 1067.77,810.33 1068.7,801.87 1069.63,793.8 1070.56,786.12 1071.49,778.8 1072.42,771.82 1073.35,765.16 1074.28,758.82 1075.21,752.78 1076.14,747.02 1077.07,741.53 1078,736.3 1078.93,731.32 1079.86,726.57 1080.79,722.04 1081.72,717.72 1082.65,713.61 1083.58,709.69 1084.51,705.96 1085.44,702.39 1086.37,699 1087.3,695.77 1088.23,692.68 1089.16,689.75 1090.09,686.95 1091.02,684.28 1091.95,681.74 1092.88,679.31 1093.81,677 1094.74,674.8 1095.67,672.7 1096.6,670.7 1097.53,668.8 1098.46,666.98 1099.39,665.25 1100.32,663.6 1101.25,662.03 1102.18,660.53 1103.11,659.1 1104.04,657.74 1104.97,656.44 1105.9,655.2 1106.83,654.03 1107.76,652.9 1108.69,651.83 1109.62,650.81 1110.55,649.84 1111.48,648.91 1112.41,648.03 1113.34,647.19 1114.27,646.39 1115.2,645.62 1116.13,644.89 1117.06,644.2 1117.99,643.54 1118.92,642.91 1119.85,642.31 1120.78,641.73 1121.71,641.19 1122.64,640.67 1123.57,640.17 1124.5,639.7 1125.43,639.25 1126.36,638.82 1127.29,638.41 1128.22,638.02 1129.15,637.65 1130.08,637.29 1131.01,636.96 1131.94,636.63 1132.87,636.33 1133.8,636.03 1137.52,635 1141.24,634.14 1144.96,633.43 1148.68,632.85 1152.4,632.37 1156.12,631.97 1159.84,631.64 1163.56,631.37 1167.28,631.15 1171,630.97 1174.72,630.82 1178.44,630.69 1182.16,630.59 1185.88,630.5 1189.6,630.43 1193.32,630.37 1197.04,630.33 1200.76,630.29 1204.48,630.25 1208.2,630.23 1211.92,630.2 1215.64,630.19 1219.36,630.17 1223.08,630.16 1226.8,630.15 1230.52,630.14 1234.24,630.13 1237.96,630.13 1241.68,630.12 1245.4,630.12 1249.12,630.12 1252.84,630.11 1256.56,630.11 1260.28,630.11 1264,630.11 1267.72,630.11 1271.44,630.1 1275.16,630.1 1278.88,630.1 1282.6,630.1 1286.32,630.1 1290.04,630.1 1293.76,630.1 1297.48,630.1 1301.2,630.1 1304.92,630.1 1308.64,630.1 1312.36,630.1 1316.08,630.1 1319.8,630.1 1323.52,630.1 1327.24,630.1 1328.73,630.1" fill="none" stroke="#111" stroke-width="4.0" stroke-linejoin="round"/>
<circle cx="1060" cy="976.4" r="7.0" fill="#820f50" stroke="#820f50" stroke-width="2.4"/><circle cx="1061.5" cy="971" r="7.0" fill="#820f50" stroke="#820f50" stroke-width="2.4"/><circle cx="1063.4" cy="969.5" r="7.0" fill="#820f50" stroke="#820f50" stroke-width="2.4"/><circle cx="1065.2" cy="968.8" r="7.0" fill="#820f50" stroke="#820f50" stroke-width="2.4"/><circle cx="1068.9" cy="969.2" r="7.0" fill="#820f50" stroke="#820f50" stroke-width="2.4"/><circle cx="1070.8" cy="970.3" r="7.0" fill="#820f50" stroke="#820f50" stroke-width="2.4"/><circle cx="1072.7" cy="971" r="7.0" fill="#820f50" stroke="#820f50" stroke-width="2.4"/><circle cx="1078.4" cy="974.5" r="7.0" fill="#820f50" stroke="#820f50" stroke-width="2.4"/><circle cx="1087.8" cy="983.5" r="7.0" fill="#820f50" stroke="#820f50" stroke-width="2.4"/><circle cx="1097.1" cy="986.5" r="7.0" fill="#820f50" stroke="#820f50" stroke-width="2.4"/><circle cx="1115.6" cy="984.7" r="7.0" fill="#820f50" stroke="#820f50" stroke-width="2.4"/><circle cx="1171" cy="973.3" r="7.0" fill="#820f50" stroke="#820f50" stroke-width="2.4"/><circle cx="1282.4" cy="964" r="7.0" fill="#820f50" stroke="#820f50" stroke-width="2.4"/><circle cx="1060" cy="976.4" r="6.6" fill="#913769"/><circle cx="1061.5" cy="971" r="6.6" fill="#913769"/><circle cx="1063.4" cy="969.5" r="6.6" fill="#913769"/><circle cx="1065.2" cy="968.8" r="6.6" fill="#913769"/><circle cx="1068.9" cy="969.2" r="6.6" fill="#913769"/><circle cx="1070.8" cy="970.3" r="6.6" fill="#913769"/><circle cx="1072.7" cy="971" r="6.6" fill="#913769"/><circle cx="1078.4" cy="974.5" r="6.6" fill="#913769"/><circle cx="1087.8" cy="983.5" r="6.6" fill="#913769"/><circle cx="1097.1" cy="986.5" r="6.6" fill="#913769"/><circle cx="1115.6" cy="984.7" r="6.6" fill="#913769"/><circle cx="1171" cy="973.3" r="6.6" fill="#913769"/><circle cx="1282.4" cy="964" r="6.6" fill="#913769"/>
<text x="1207.03" y="810.2" font-size="42" textLength="127.18" lengthAdjust="spacingAndGlyphs" fill="#000">10 mM</text>
<text x="1110.55" y="854.4" font-size="42" font-style="italic" textLength="25.48" lengthAdjust="spacingAndGlyphs" fill="#000">T</text>
<text x="1133.5" y="854.4" font-size="28" textLength="60.2" lengthAdjust="spacingAndGlyphs" fill="#000">B,on</text>
<text x="1205.36" y="854.4" font-size="42" textLength="126.34" lengthAdjust="spacingAndGlyphs" fill="#000">= 5.2 s</text>
<text x="1162.75" y="898.1" font-size="42" textLength="167.73" lengthAdjust="spacingAndGlyphs" fill="#000">σ = 2.4%</text>
<text x="-947.21" y="961" font-size="42" fill="#000" transform="rotate(-90)">intensity (A.U.)</text>
<text x="928.97" y="608" font-size="45.5" font-weight="bold" textLength="25.89" lengthAdjust="spacingAndGlyphs" fill="#000">F</text>
<text x="676.66" y="1108.2" font-size="42" fill="#000">time (s)</text>
</svg>
</body></html>
